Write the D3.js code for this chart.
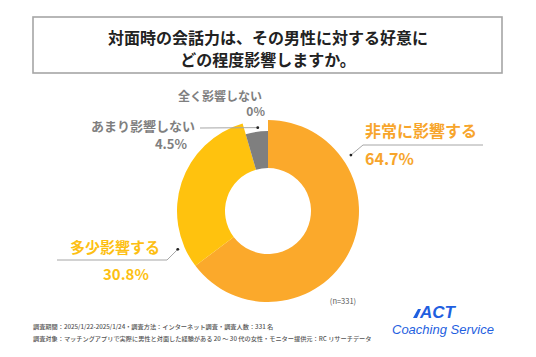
<!DOCTYPE html>
<html><head><meta charset="utf-8">
<script src="https://cdn.jsdelivr.net/npm/d3@7"></script>
<style>html,body{margin:0;padding:0;background:#fff;}svg{display:block;}</style>
</head><body>
<script>
const categories = ["非常に影響する", "多少影響する", "あまり影響しない", "全く影響しない"];
const values = [64.7, 30.8, 4.5, 0];
const valueLabels = ["64.7%", "30.8%", "4.5%", "0%"];
const titleLines = ["対面時の会話力は、その男性に対する好意に", "どの程度影響しますか。"];
const notes = ["調査期間：2025/1/22-2025/1/24・調査方法：インターネット調査・調査人数：331 名",
  "調査対象：マッチングアプリで実際に男性と対面した経験がある 20 ～ 30 代の女性・モニター提供元：RC リサーチデータ"];
const sampleNote = "(n=331)";

const W = 536, H = 357;
const cx = 268, cy = 211, R = 91, r = 43;
const colors = d3.scaleOrdinal().domain(categories).range(["#FBA92B", "#FFC20E", "#7F7F7F", "#BFBFBF"]);
const textColors = d3.scaleOrdinal().domain(categories).range(["#F7A52C", "#FDBF13", "#7F7F7F", "#7F7F7F"]);
const outerR = {"非常に影響する": R, "多少影響する": R, "あまり影響しない": 80, "全く影響しない": 80};
const jp = "'Noto Sans CJK JP','Noto Sans',sans-serif";

const svg = d3.select("body").append("svg").attr("width", W).attr("height", H);

// title box
svg.append("rect").attr("x", 33).attr("y", 17).attr("width", 469).attr("height", 56)
  .attr("fill", "#fff").attr("stroke", "#A6A6A6").attr("stroke-width", 1.6);
svg.selectAll("text.title").data(titleLines).join("text").attr("class", "title")
  .attr("x", 268).attr("y", (d, i) => 44 + i * 22)
  .attr("text-anchor", "middle").attr("font-family", jp).attr("font-weight", 700)
  .attr("font-size", 16).attr("fill", "#222").text(d => d);

// donut
const pie = d3.pie().sort(null).value(d => d.v);
const data = categories.map((c, i) => ({c, v: values[i], lab: valueLabels[i]}));
const arcs = pie(data);
const g = svg.append("g").attr("transform", `translate(${cx},${cy})`);
g.selectAll("path").data(arcs.filter(d => d.data.v > 0)).join("path")
  .attr("d", d => d3.arc().innerRadius(r).outerRadius(outerR[d.data.c])(d))
  .attr("fill", d => colors(d.data.c));

// label layout (positions only)
const layout = {
  "非常に影響する": {ang: 56, rad: 100, pts: [[363,145],[483,145]], name: [365,137,"start",16], val: [365,165,"start",16]},
  "多少影響する": {ang: 247, rad: 98, pts: [[167,260],[57,260]], name: [70,253,"start",15], val: [103,280,"start",15]},
  "あまり影響しない": {ang: 353, rad: 84, pts: [[200,128]], name: [195,131,"end",13], val: [187,149,"end",13]},
  "全く影響しない": {ang: null, name: [262,101,"end",12], val: [265,116,"end",12]}
};
const lab = svg.append("g");
arcs.forEach(d => {
  const L = layout[d.data.c];
  if (L.ang !== null) {
    const a = L.ang * Math.PI / 180;
    const dot = [cx + L.rad * Math.sin(a), cy - L.rad * Math.cos(a)];
    lab.append("path").attr("d", d3.line()([dot, ...L.pts]))
      .attr("fill", "none").attr("stroke", "#A6A6A6").attr("stroke-width", 1);
    lab.append("circle").attr("cx", dot[0]).attr("cy", dot[1]).attr("r", 1.4).attr("fill", "#222");
  }
  lab.append("text").attr("x", L.name[0]).attr("y", L.name[1]).attr("text-anchor", L.name[2])
    .attr("font-family", jp).attr("font-weight", 700).attr("font-size", L.name[3])
    .attr("fill", textColors(d.data.c)).text(d.data.c);
  lab.append("text").attr("x", L.val[0]).attr("y", L.val[1]).attr("text-anchor", L.val[2])
    .attr("font-family", jp).attr("font-weight", 700).attr("font-size", L.val[3])
    .attr("fill", textColors(d.data.c)).text(d.data.lab);
});

// n note
svg.append("text").attr("x", 343).attr("y", 304).attr("text-anchor", "middle")
  .attr("font-family", jp).attr("font-size", 7.5).attr("fill", "#555").text(sampleNote);

// footnotes
svg.selectAll("text.note").data(notes).join("text").attr("class", "note")
  .attr("x", 33).attr("y", (d, i) => 329 + i * 11.5)
  .attr("font-family", jp).attr("font-size", 6.2).attr("font-weight", 500).attr("fill", "#555").text(d => d);

// logo
const blue = "#1F5FE0";
svg.append("path").attr("d", "M413,318 L418,309 L421,309 L417,318 Z").attr("fill", blue);
svg.append("text").attr("x", 420).attr("y", 318).attr("font-family", "'Liberation Sans',Arial,sans-serif")
  .attr("font-style", "italic").attr("font-weight", 700).attr("font-size", 17).attr("fill", blue).text("ACT");
svg.append("text").attr("x", 392).attr("y", 334).attr("font-family", "'Liberation Sans',Arial,sans-serif")
  .attr("font-style", "italic").attr("font-size", 13).attr("fill", blue).text("Coaching Service");
</script>
</body></html>
